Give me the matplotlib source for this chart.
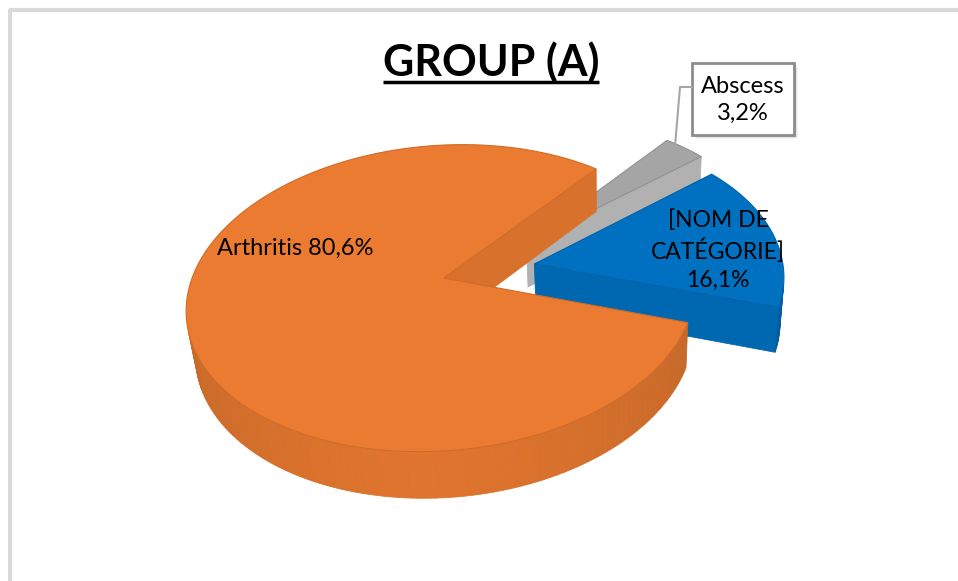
import numpy as np
import matplotlib
matplotlib.use('Agg')
import matplotlib.pyplot as plt
from matplotlib.patches import Polygon, Rectangle
import matplotlib.colors as mcolors

# data
categories = ['Arthritis', '[NOM DE\nCATÉGORIE]', 'Abscess']
percents = [80.6, 16.1, 3.2]
pct_labels = ['80,6%', '16,1%', '3,2%']

colors = ['#EB7B30', '#0070C0', '#A5A5A5']
explode = [0.15, 0.22, 0.26]

# view of the 3D pie (pixel space)
start_angle = 53.0
phi = np.radians(36.6)
D = 6.16
F = 1540.0
xc = 0.507          # camera sits a little to the right of the pie centre
cx, cy = 607.0, 271.0
depth = 0.225
cam = np.array([xc, -D * np.cos(phi), D * np.sin(phi)])


def proj(x, y, z):
    x = np.asarray(x, float)
    y = np.asarray(y, float)
    z = np.asarray(z, float)
    d = y * np.cos(phi) - z * np.sin(phi)
    s = y * np.sin(phi) + z * np.cos(phi)
    return cx + F * (x - xc) / (D + d), cy - F * s / (D + d)


def shade(c, f):
    rgb = np.array(mcolors.to_rgb(c))
    return tuple(np.clip(rgb * f, 0, 1))


def facing(p, n):
    return np.dot(cam - p, n) > 0


fig = plt.figure(figsize=(9.58, 5.81), dpi=100)
ax = fig.add_axes([0, 0, 1, 1])
ax.set_xlim(0, 958)
ax.set_ylim(581, 0)
ax.axis('off')

# chart border (top and left visible)
ax.plot([9, 958], [10, 10], color='#D9D9D9', lw=3, solid_capstyle='butt')
ax.plot([10, 10], [9, 581], color='#D9D9D9', lw=3, solid_capstyle='butt')

total = float(sum(percents))
bounds = start_angle + 360.0 * np.concatenate([[0], np.cumsum(percents)]) / total

slices = []
for i in range(len(percents)):
    t1, t2 = np.radians(bounds[i]), np.radians(bounds[i + 1])
    mid = 0.5 * (t1 + t2)
    ox, oy = explode[i] * np.cos(mid), explode[i] * np.sin(mid)
    slices.append((i, t1, t2, ox, oy))

# paint back slices first, the big one last
for i, t1, t2, ox, oy in [slices[2], slices[1], slices[0]]:
    col = colors[i]
    n = max(int(np.degrees(t2 - t1) / 1.5), 8)
    t = np.linspace(t1, t2, n)

    # cut faces
    for ta, sgn in ((t1, 1), (t2, -1)):
        nrm = np.array([sgn * np.sin(ta), -sgn * np.cos(ta), 0.0])
        p = np.array([ox + 0.5 * np.cos(ta), oy + 0.5 * np.sin(ta), -depth / 2])
        if facing(p, nrm):
            xs = [ox, ox + np.cos(ta), ox + np.cos(ta), ox]
            ys = [oy, oy + np.sin(ta), oy + np.sin(ta), oy]
            zs = [0, 0, -depth, -depth]
            px, py = proj(xs, ys, zs)
            fc = shade(col, 1.07) if i == 2 else shade(col, 0.92)
            ax.add_patch(Polygon(np.c_[px, py], closed=True, fc=fc,
                                 ec=fc, lw=0.6))

    # outer wall
    for j in range(n - 1):
        m = 0.5 * (t[j] + t[j + 1])
        nrm = np.array([np.cos(m), np.sin(m), 0.0])
        p = np.array([ox + np.cos(m), oy + np.sin(m), -depth / 2])
        if not facing(p, nrm):
            continue
        f = 0.87 + 0.08 * max(-np.sin(m), 0) - 0.05 * abs(np.cos(m))
        xs = [ox + np.cos(t[j]), ox + np.cos(t[j + 1]), ox + np.cos(t[j + 1]), ox + np.cos(t[j])]
        ys = [oy + np.sin(t[j]), oy + np.sin(t[j + 1]), oy + np.sin(t[j + 1]), oy + np.sin(t[j])]
        zs = [0, 0, -depth, -depth]
        px, py = proj(xs, ys, zs)
        ax.add_patch(Polygon(np.c_[px, py], closed=True, fc=shade(col, f),
                             ec=shade(col, f), lw=0.6))

    # top face
    xs = np.r_[ox, ox + np.cos(t)]
    ys = np.r_[oy, oy + np.sin(t)]
    px, py = proj(xs, ys, np.zeros_like(xs))
    ax.add_patch(Polygon(np.c_[px, py], closed=True, fc=col,
                         ec=shade(col, 0.88), lw=0.8))

font = 'Lato'

# title
title = ax.text(491, 62, 'GROUP (A)', ha='center', va='center', fontsize=31,
                fontweight='bold', family=font, color='black')
fig.canvas.draw()
bb = title.get_window_extent()
inv = ax.transData.inverted()
(x0, _), (x1, _) = inv.transform([[bb.x0, bb.y0], [bb.x1, bb.y1]])
ax.plot([x0, x1], [82, 82], color='black', lw=2.5, solid_capstyle='butt')

# labels
ax.text(295, 248, categories[0] + ' ' + pct_labels[0], ha='center', va='center',
        fontsize=17, family=font, color='black')
ax.text(718, 250, categories[1] + '\n' + pct_labels[1], ha='center', va='center',
        fontsize=16.5, family=font, color='black', linespacing=1.4)

# callout for the small slice
ax.plot([692, 680, 675], [87, 87, 146], color='#A6A6A6', lw=1.5)
for k, a in enumerate([0.10, 0.07, 0.04]):
    ax.add_patch(Rectangle((693 + k + 1, 64 + k + 1), 102, 72, fc='black',
                           ec='none', alpha=a))
ax.add_patch(Rectangle((692, 63), 102, 72, fc='white', ec='#8C8C8C', lw=2))
ax.text(743, 100, categories[2] + '\n' + pct_labels[2], ha='center', va='center',
        fontsize=17, family=font, color='black', linespacing=1.3)

fig.savefig('out.png', dpi=100)
